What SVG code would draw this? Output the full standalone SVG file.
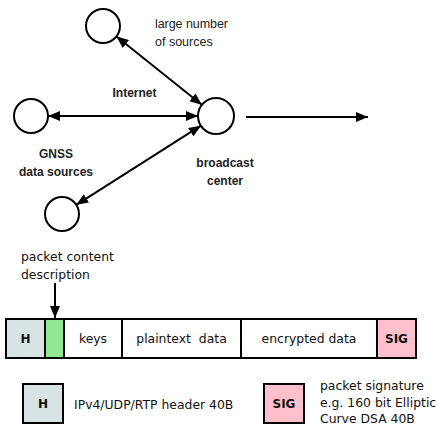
<svg xmlns="http://www.w3.org/2000/svg" width="438" height="425" viewBox="0 0 438 425">
  <style>
    .node { fill: #ffffff; stroke: #000000; stroke-width: 2; }
    .link { stroke: #000000; stroke-width: 2; fill: none; }
    .lbl { font-family: "Liberation Sans", Arial, sans-serif; font-size: 12.5px; fill: #222222; }
    .blbl { font-family: "Liberation Sans", Arial, sans-serif; font-size: 12px; font-weight: bold; fill: #222222; }
    .pk { font-family: "DejaVu Sans", sans-serif; font-size: 12.4px; fill: #111111; }
    .pkb { font-family: "DejaVu Sans", sans-serif; font-size: 12px; font-weight: bold; fill: #111111; }
    .cell { stroke: #000000; stroke-width: 2; }
  </style>
  <defs>
    <marker id="head" viewBox="0 0 12 10" refX="12" refY="5" markerWidth="12" markerHeight="10" markerUnits="userSpaceOnUse" orient="auto-start-reverse">
      <path d="M0,0 L12,5 L0,10 Z" fill="#000000"/>
    </marker>
  </defs>

  <rect width="438" height="425" fill="#ffffff"/>

  <!-- sources and broadcast center -->
  <g id="source-top">
    <circle class="node" cx="103" cy="26" r="17"/>
  </g>
  <g id="source-gnss">
    <circle class="node" cx="31" cy="116" r="17"/>
  </g>
  <g id="source-bottom">
    <circle class="node" cx="62" cy="214" r="17"/>
  </g>
  <g id="broadcast-center">
    <circle class="node" cx="216" cy="116" r="18"/>
  </g>

  <!-- connectors -->
  <g id="connectors">
    <line class="link" x1="116.5" y1="36.5" x2="201.8" y2="104.8" marker-start="url(#head)" marker-end="url(#head)"/>
    <line class="link" x1="48" y1="116" x2="198" y2="116" marker-start="url(#head)" marker-end="url(#head)"/>
    <line class="link" x1="76.3" y1="204.8" x2="200.9" y2="125.7" marker-start="url(#head)" marker-end="url(#head)"/>
    <line class="link" x1="246" y1="117" x2="368" y2="117" marker-end="url(#head)"/>
    <line class="link" x1="55" y1="283" x2="55" y2="318" marker-end="url(#head)"/>
  </g>

  <!-- labels -->
  <g id="labels">
    <text class="lbl" x="155" y="28" textLength="73" lengthAdjust="spacing">large number</text>
    <text class="lbl" x="155" y="46">of sources</text>
    <text class="blbl" x="134.5" y="97" text-anchor="middle">Internet</text>
    <text class="blbl" x="56" y="158" text-anchor="middle">GNSS</text>
    <text class="blbl" x="56" y="176" text-anchor="middle">data sources</text>
    <text class="blbl" x="225" y="167" text-anchor="middle">broadcast</text>
    <text class="blbl" x="225" y="185" text-anchor="middle">center</text>
    <text class="pk" x="21" y="261">packet content</text>
    <text class="pk" x="21" y="279">description</text>
  </g>

  <!-- packet layout -->
  <g id="packet">
    <rect class="cell" x="6" y="319" width="39" height="39" fill="#d8e3e3"/>
    <rect class="cell" x="45" y="319" width="19" height="39" fill="#93e993"/>
    <rect class="cell" x="64" y="319" width="58" height="39" fill="#ffffff"/>
    <rect class="cell" x="122" y="319" width="119" height="39" fill="#ffffff"/>
    <rect class="cell" x="241" y="319" width="136" height="39" fill="#ffffff"/>
    <rect class="cell" x="377" y="319" width="39" height="39" fill="#ffc0cb"/>
    <text class="pkb" x="25.5" y="343" text-anchor="middle">H</text>
    <text class="pk" x="93" y="343" text-anchor="middle">keys</text>
    <text class="pk" x="181.5" y="343" text-anchor="middle" xml:space="preserve">plaintext  data</text>
    <text class="pk" x="309" y="343" text-anchor="middle">encrypted data</text>
    <text class="pkb" x="396.5" y="343" text-anchor="middle">SIG</text>
  </g>

  <!-- legend -->
  <g id="legend-header">
    <rect class="cell" x="23" y="384" width="40" height="39" fill="#d8e3e3"/>
    <text class="pkb" x="43" y="408" text-anchor="middle">H</text>
    <text class="pk" x="74" y="409">IPv4/UDP/RTP header 40B</text>
  </g>
  <g id="legend-signature">
    <rect class="cell" x="264" y="384" width="40" height="39" fill="#ffc0cb"/>
    <text class="pkb" x="284" y="408" text-anchor="middle">SIG</text>
    <text class="pk" x="320" y="390">packet signature</text>
    <text class="pk" x="320" y="407">e.g. 160 bit Elliptic</text>
    <text class="pk" x="320" y="423">Curve DSA 40B</text>
  </g>
</svg>
